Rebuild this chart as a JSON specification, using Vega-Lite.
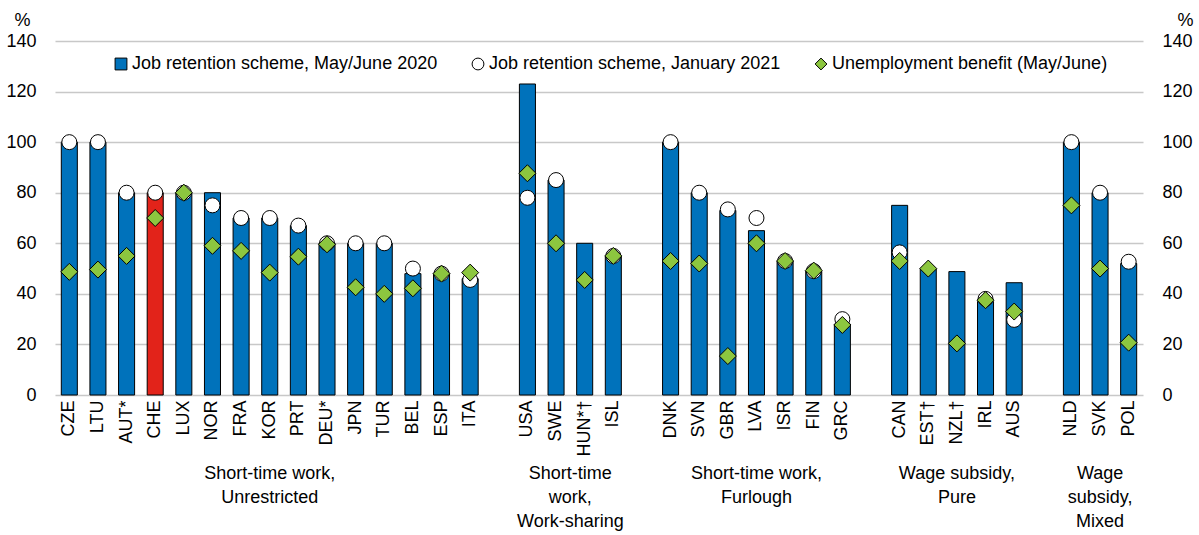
{
  "$schema": "https://vega.github.io/schema/vega-lite/v6.json",
  "width": 1088,
  "height": 354,
  "autosize": {"type": "none"},
  "padding": {"left": 55, "top": 41, "right": 56, "bottom": 140},
  "background": "white",
  "config": {
    "view": {"stroke": null},
    "font": "'Liberation Sans Narrow', 'Arial Narrow', 'Liberation Sans', sans-serif",
    "axis": {"labelFont": "'Liberation Sans Narrow', 'Arial Narrow', 'Liberation Sans', sans-serif", "labelColor": "black", "titleColor": "black"},
    "legend": {"labelFont": "'Liberation Sans Narrow', 'Arial Narrow', 'Liberation Sans', sans-serif"}
  },
  "datasets": {
    "countries": [
      {"country": "CZE", "jrs2020": 100, "jrs2021": 100, "ub": 48.7},
      {"country": "LTU", "jrs2020": 100, "jrs2021": 100, "ub": 49.6},
      {"country": "AUT*", "jrs2020": 80, "jrs2021": 80, "ub": 55},
      {"country": "CHE", "jrs2020": 80, "jrs2021": 80, "ub": 70},
      {"country": "LUX", "jrs2020": 80, "jrs2021": 80, "ub": 80},
      {"country": "NOR", "jrs2020": 80, "jrs2021": 75, "ub": 59},
      {"country": "FRA", "jrs2020": 70, "jrs2021": 70, "ub": 57},
      {"country": "KOR", "jrs2020": 70, "jrs2021": 70, "ub": 48.4},
      {"country": "PRT", "jrs2020": 67, "jrs2021": 67, "ub": 54.7},
      {"country": "DEU*", "jrs2020": 60, "jrs2021": 60, "ub": 59.6},
      {"country": "JPN", "jrs2020": 60, "jrs2021": 60, "ub": 42.6},
      {"country": "TUR", "jrs2020": 60, "jrs2021": 60, "ub": 40},
      {"country": "BEL", "jrs2020": 48, "jrs2021": 50, "ub": 42.2},
      {"country": "ESP", "jrs2020": 48, "jrs2021": 48, "ub": 48},
      {"country": "ITA", "jrs2020": 46, "jrs2021": 45.5, "ub": 48.4},
      {"country": "USA", "jrs2020": 123, "jrs2021": 78, "ub": 87.7},
      {"country": "SWE", "jrs2020": 85, "jrs2021": 85, "ub": 60},
      {"country": "HUN*†", "jrs2020": 60, "jrs2021": null, "ub": 45.5},
      {"country": "ISL", "jrs2020": 55, "jrs2021": 55, "ub": 55},
      {"country": "DNK", "jrs2020": 100, "jrs2021": 100, "ub": 53},
      {"country": "SVN", "jrs2020": 80, "jrs2021": 80, "ub": 52},
      {"country": "GBR", "jrs2020": 73, "jrs2021": 73.4, "ub": 15.4},
      {"country": "LVA", "jrs2020": 65, "jrs2021": 70, "ub": 60},
      {"country": "ISR", "jrs2020": 53, "jrs2021": 53, "ub": 53},
      {"country": "FIN", "jrs2020": 49, "jrs2021": 49, "ub": 49.2},
      {"country": "GRC", "jrs2020": 28, "jrs2021": 30, "ub": 27.7},
      {"country": "CAN", "jrs2020": 75, "jrs2021": 56.4, "ub": 53},
      {"country": "EST†", "jrs2020": 50, "jrs2021": null, "ub": 50},
      {"country": "NZL†", "jrs2020": 48.8, "jrs2021": null, "ub": 20.4},
      {"country": "IRL", "jrs2020": 37, "jrs2021": 38, "ub": 37.5},
      {"country": "AUS", "jrs2020": 44.4, "jrs2021": 29.7, "ub": 33},
      {"country": "NLD", "jrs2020": 100, "jrs2021": 100, "ub": 75},
      {"country": "SVK", "jrs2020": 80, "jrs2021": 80, "ub": 50},
      {"country": "POL", "jrs2020": 52, "jrs2021": 52.7, "ub": 20.7}
    ],
    "groups": [
      {"label": "Short-time work,\nUnrestricted", "anchor": "KOR"},
      {"label": "Short-time work,\nFurlough", "anchor": "LVA"},
      {"label": "Wage subsidy,\nPure", "anchor": "NZL†"},
      {"label": "Wage\nsubsidy,\nMixed", "anchor": "SVK"}
    ],
    "groups2": [
      {"label": "Short-time\nwork,\nWork-sharing", "anchor": "SWE"}
    ]
  },
  "resolve": {"axis": {"y": "independent"}},
  "layer": [
    {
      "data": {"name": "countries"},
      "transform": [
        {"fold": ["jrs2020"], "as": ["series", "value"]}
      ],
      "mark": {"type": "bar", "stroke": "black", "strokeWidth": 1},
      "encoding": {
        "x": {
          "field": "country", "type": "nominal",
          "scale": {
            "domain": ["CZE","LTU","AUT*","CHE","LUX","NOR","FRA","KOR","PRT","DEU*","JPN","TUR","BEL","ESP","ITA","_1","USA","SWE","HUN*†","ISL","_2","DNK","SVN","GBR","LVA","ISR","FIN","GRC","_3","CAN","EST†","NZL†","IRL","AUS","_4","NLD","SVK","POL"],
            "paddingInner": 0.44, "paddingOuter": 0.22
          },
          "sort": null,
          "axis": {
            "title": null, "labelAngle": 270, "labelFontSize": 18, "labelPadding": 5,
            "ticks": false, "domain": false, "grid": false,
            "labelExpr": "indexof(datum.value, '_') === 0 ? '' : datum.value"
          }
        },
        "y": {
          "field": "value", "type": "quantitative",
          "scale": {"domain": [0, 140], "nice": false, "zero": true},
          "axis": {
            "values": [0,20,40,60,80,100,120,140], "grid": true, "gridColor": "#C8C8C8", "gridWidth": 1.5,
            "domain": false, "ticks": false, "labelFontSize": 18, "labelPadding": 19,
            "title": "%", "titleAngle": 0, "titleFontSize": 18, "titleFontWeight": "normal",
            "titleX": -33, "titleY": -21, "titleAlign": "center", "titleBaseline": "middle"
          }
        },
        "color": {
          "condition": {"test": "datum.country === 'CHE'", "value": "#E2231A"},
          "field": "series", "type": "nominal",
          "scale": {"domain": ["jrs2020", "jrs2021", "ub"], "range": ["#0072BB", "#FFFFFF", "#8CC63F"]},
          "legend": {
            "title": null, "orient": "none", "legendX": 57, "legendY": 14, "direction": "horizontal", "columns": 3,
            "labelFontSize": 18, "labelColor": "black", "labelLimit": 0, "columnPadding": 31, "labelOffset": 2,
            "symbolSize": 140, "symbolStrokeColor": "black", "symbolStrokeWidth": 1,
            "labelExpr": "datum.value === 'jrs2020' ? 'Job retention scheme, May/June 2020' : datum.value === 'jrs2021' ? 'Job retention scheme, January 2021' : 'Unemployment benefit (May/June)'"
          }
        }
      }
    },
    {
      "data": {"name": "countries"},
      "transform": [
        {"fold": ["jrs2021"], "as": ["series", "value"]},
        {"filter": "isValid(datum.value)"}
      ],
      "mark": {"type": "point", "filled": true, "stroke": "black", "strokeWidth": 1, "opacity": 1, "size": 225},
      "encoding": {
        "x": {"field": "country", "type": "nominal", "sort": null},
        "y": {
          "field": "value", "type": "quantitative",
          "axis": {
            "orient": "right", "values": [0,20,40,60,80,100,120,140], "grid": false,
            "domain": false, "ticks": false, "labelFontSize": 18, "labelPadding": 19,
            "title": "%", "titleAngle": 0, "titleFontSize": 18, "titleFontWeight": "normal",
            "titleX": 42, "titleY": -21, "titleAlign": "center", "titleBaseline": "middle"
          }
        },
        "color": {"field": "series", "type": "nominal"},
        "shape": {
          "field": "series", "type": "nominal",
          "scale": {"domain": ["jrs2020", "jrs2021", "ub"], "range": ["square", "circle", "diamond"]}
        }
      }
    },
    {
      "data": {"name": "countries"},
      "transform": [
        {"fold": ["ub"], "as": ["series", "value"]}
      ],
      "mark": {"type": "point", "filled": true, "stroke": "black", "strokeWidth": 1, "opacity": 1, "size": 289},
      "encoding": {
        "x": {"field": "country", "type": "nominal", "sort": null},
        "y": {"field": "value", "type": "quantitative", "axis": null},
        "color": {"field": "series", "type": "nominal"},
        "shape": {"field": "series", "type": "nominal"}
      }
    },
    {
      "data": {"name": "groups"},
      "mark": {"type": "text", "fontSize": 18, "lineBreak": "\n", "lineHeight": 24, "baseline": "top", "align": "center", "color": "black"},
      "encoding": {
        "x": {"field": "anchor", "type": "nominal", "sort": null},
        "y": {"datum": -27.5, "type": "quantitative", "axis": null},
        "text": {"field": "label"}
      }
    },
    {
      "data": {"name": "groups2"},
      "mark": {"type": "text", "fontSize": 18, "lineBreak": "\n", "lineHeight": 24, "baseline": "top", "align": "center", "color": "black", "dx": 14.3},
      "encoding": {
        "x": {"field": "anchor", "type": "nominal", "sort": null},
        "y": {"datum": -27.5, "type": "quantitative", "axis": null},
        "text": {"field": "label"}
      }
    }
  ]
}
